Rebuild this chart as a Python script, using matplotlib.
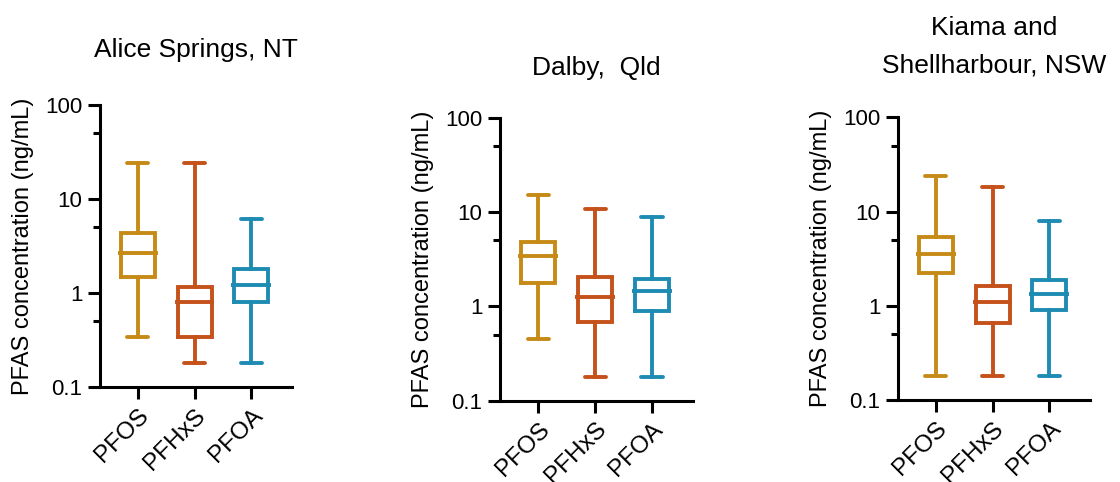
import matplotlib
matplotlib.use("Agg")
import matplotlib.pyplot as plt
from matplotlib.ticker import FixedLocator, NullFormatter

plt.rcParams['font.family'] = ['Liberation Sans', 'DejaVu Sans']

compounds = ['PFOS', 'PFHxS', 'PFOA']
colors = ['#C68B17', '#C5511B', '#1E8BB3']

# min, Q1, median, Q3, max per compound (ng/mL)
alice_min = [0.34, 0.18, 0.18]
alice_q1 = [1.47, 0.34, 0.80]
alice_med = [2.64, 0.81, 1.22]
alice_q3 = [4.3, 1.17, 1.82]
alice_max = [24.3, 24.3, 6.2]

dalby_min = [0.45, 0.18, 0.18]
dalby_q1 = [1.78, 0.68, 0.89]
dalby_med = [3.42, 1.26, 1.46]
dalby_q3 = [4.77, 2.06, 1.95]
dalby_max = [15.1, 10.7, 8.85]

kiama_min = [0.18, 0.18, 0.18]
kiama_q1 = [2.2, 0.65, 0.90]
kiama_med = [3.5, 1.1, 1.33]
kiama_q3 = [5.4, 1.62, 1.87]
kiama_max = [24.0, 18.0, 8.0]

sites = [
    ('Alice Springs, NT', alice_min, alice_q1, alice_med, alice_q3, alice_max),
    ('Dalby,  Qld', dalby_min, dalby_q1, dalby_med, dalby_q3, dalby_max),
    ('Kiama and\nShellharbour, NSW', kiama_min, kiama_q1, kiama_med, kiama_q3, kiama_max),
]

W, H = 1120, 482
fig = plt.figure(figsize=(W / 100, H / 100), dpi=100)

# axes boxes in pixels: left, top, right, bottom
boxes = [(100, 105, 292, 387), (500, 117.7, 693, 400.7), (898, 117.3, 1090, 400)]
title_base = [57.5, 75, 72.7]

lw = 2.8
for (name, mn, q1, med, q3, mx), (l, t, r, b), tb in zip(sites, boxes, title_base):
    ax = fig.add_axes([l / W, 1 - b / H, (r - l) / W, (b - t) / H])
    stats = []
    for i in range(3):
        stats.append(dict(whislo=mn[i], q1=q1[i], med=med[i], q3=q3[i], whishi=mx[i]))
    pos = [1, 2, 3]
    art = ax.bxp(stats, positions=pos, widths=0.6, capwidths=0.37, showfliers=False,
                 showcaps=True, manage_ticks=False)
    for i, c in enumerate(colors):
        art['boxes'][i].set(color=c, linewidth=lw, solid_joinstyle='miter')
        art['medians'][i].set(visible=False)
        for k in (2 * i, 2 * i + 1):
            art['whiskers'][k].set(color=c, linewidth=lw)
            art['caps'][k].set(color=c, linewidth=lw, solid_capstyle='round')
    # medians stick out a little past the box
    for i, c in enumerate(colors):
        ax.hlines(med[i], pos[i] - 0.35, pos[i] + 0.35, colors=c, linewidth=lw, zorder=3)

    ax.set_yscale('log')
    ax.set_ylim(0.1, 100)
    ax.set_xlim(0.33, 3.72)
    ax.yaxis.set_major_locator(FixedLocator([0.1, 1, 10, 100]))
    ax.set_yticklabels(['0.1', '1', '10', '100'])
    ax.yaxis.set_minor_locator(FixedLocator([0.5, 5, 50]))
    ax.yaxis.set_minor_formatter(NullFormatter())
    ax.set_xticks(pos)
    ax.set_xticklabels(compounds, rotation=45, ha='right', rotation_mode='anchor')

    for s in ('top', 'right'):
        ax.spines[s].set_visible(False)
    for s in ('left', 'bottom'):
        ax.spines[s].set_linewidth(2.2)
    ax.tick_params(which='major', length=8.6, width=2.2, pad=4)
    ax.tick_params(axis='y', labelsize=16)
    ax.tick_params(axis='x', labelsize=17.5, pad=4)
    ax.tick_params(which='minor', length=5, width=2.2)

    ax.set_ylabel('PFAS concentration (ng/mL)', fontsize=17)
    ax.yaxis.set_label_coords(-66 / (r - l), 0.5)

    fig.text((l + r) / 2 / W, 1 - tb / H, name, ha='center', va='baseline',
             fontsize=19, linespacing=1.7)

fig.savefig('out.png', dpi=100)
